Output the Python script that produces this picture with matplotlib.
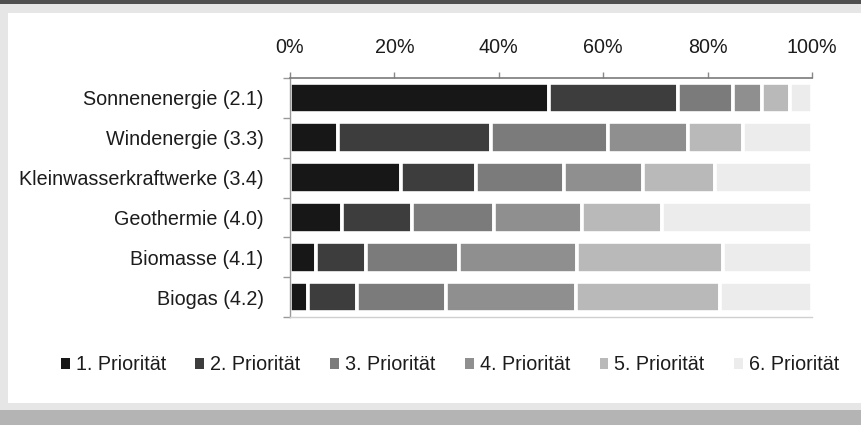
import matplotlib
matplotlib.use("Agg")
import matplotlib.pyplot as plt
from matplotlib.patches import Rectangle, Patch
from matplotlib.ticker import FixedLocator, PercentFormatter
import numpy as np

plt.rcParams['font.family'] = ['Liberation Sans', 'DejaVu Sans']

categories = ["Sonnenenergie (2.1)", "Windenergie (3.3)", "Kleinwasserkraftwerke (3.4)",
              "Geothermie (4.0)", "Biomasse (4.1)", "Biogas (4.2)"]
series_names = ["1. Priorität", "2. Priorität", "3. Priorität",
                "4. Priorität", "5. Priorität", "6. Priorität"]
p1 = [49.7, 9.1, 21.3, 10.0, 5.0, 3.4]
p2 = [24.7, 29.5, 14.3, 13.4, 9.6, 9.4]
p3 = [10.4, 22.4, 16.9, 15.7, 17.8, 17.0]
p4 = [5.7, 15.2, 15.2, 16.8, 22.6, 25.0]
p5 = [5.3, 10.6, 13.8, 15.3, 27.9, 27.6]
p6 = [4.2, 13.2, 18.5, 28.8, 17.1, 17.6]
series = [p1, p2, p3, p4, p5, p6]
colors = ["#171717", "#3d3d3d", "#7b7b7b", "#8f8f8f", "#b9b9b9", "#ececec"]
x_ticks = [0, 20, 40, 60, 80, 100]

W, H = 862, 425
fig = plt.figure(figsize=(W / 100, H / 100), dpi=100)
fig.patch.set_facecolor("#e6e6e6")
# decorative frame
fig.patches.append(Rectangle((8 / W, 1 - 403 / H), 1 - 8 / W, (403 - 13) / H,
                             transform=fig.transFigure, facecolor="white",
                             edgecolor="none", zorder=-10))
fig.patches.append(Rectangle((0, 1 - 4 / H), 1, 4 / H, transform=fig.transFigure,
                             facecolor="#505050", edgecolor="none", zorder=-10))
fig.patches.append(Rectangle((0, 0), 1, 15 / H, transform=fig.transFigure,
                             facecolor="#b4b4b4", edgecolor="none", zorder=-10))

ax = fig.add_axes([290 / W, 1 - 317 / H, (812 - 290) / W, (317 - 78) / H])
ax.set_facecolor("white")

y = np.arange(len(categories))
left = np.zeros(len(categories))
for vals, col, name in zip(series, colors, series_names):
    ax.barh(y, vals, left=left, height=0.77, color=col, edgecolor="white",
            linewidth=2.6, label=name)
    left += np.array(vals)

ax.set_xlim(0, 100)
ax.set_ylim(len(categories) - 0.5, -0.5)
ax.xaxis.tick_top()
ax.set_xticks(x_ticks)
ax.xaxis.set_major_formatter(PercentFormatter(decimals=0))
ax.set_yticks(y)
ax.set_yticklabels(categories)
ax.yaxis.set_minor_locator(FixedLocator(np.arange(-0.5, len(categories), 1.0)))
ax.tick_params(axis="y", which="major", length=0, pad=19, labelsize=14.2, labelcolor="#1c1c1c")
ax.tick_params(axis="y", which="minor", length=5, color="#999999", width=1)
ax.tick_params(axis="x", which="major", length=4, color="#888888", width=1,
               pad=11, labelsize=14.2, labelcolor="#1c1c1c")

ax.spines["right"].set_visible(False)
ax.spines["top"].set_color("#7a7a7a")
ax.spines["top"].set_linewidth(1.2)
ax.spines["left"].set_color("#999999")
ax.spines["left"].set_linewidth(1.0)
ax.spines["bottom"].set_color("#d0d0d0")
ax.spines["bottom"].set_linewidth(1.0)

handles = [Patch(facecolor=c, edgecolor="none") for c in colors]
leg = fig.legend(handles, series_names, loc="center", ncol=6,
                 bbox_to_anchor=(450 / W, 1 - 365 / H), frameon=False,
                 fontsize=14.2, handlelength=0.45, handleheight=0.45,
                 handletextpad=0.3, columnspacing=1.5, borderaxespad=0)
for t in leg.get_texts():
    t.set_color("#1c1c1c")

fig.savefig("out.png", dpi=100, facecolor=fig.get_facecolor())
